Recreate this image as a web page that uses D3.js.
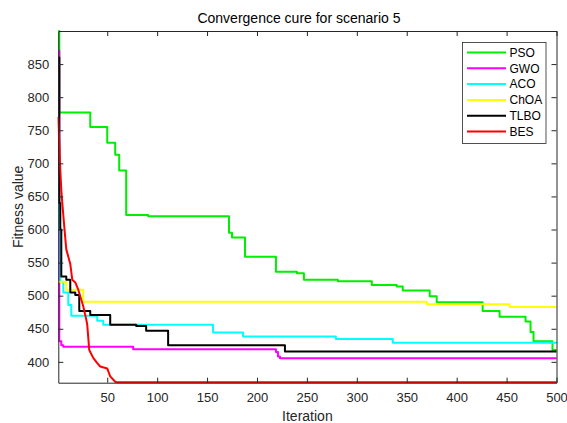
<!DOCTYPE html>
<html>
<head>
<meta charset="utf-8">
<script src="https://cdn.jsdelivr.net/npm/d3@7"></script>
<style>
  body { margin: 0; background: #fff; }
  text { font-family: 'Liberation Sans', Arial, sans-serif; }
</style>
</head>
<body>
<div class="vis-container"></div>
<script>
// Series: [iteration, fitness] breakpoints
const names = ['PSO', 'GWO', 'ACO', 'ChOA', 'TLBO', 'BES'];
const colors = ['#00ee00', '#ff00ff', '#00ffff', '#ffff00', '#000000', '#ff0000'];

const psoIter = [1, 2, 33, 50, 58, 62, 69, 91, 172, 175, 188, 219, 240, 247, 281, 315, 340, 346, 373, 380, 426, 443, 469, 474, 477, 496, 500];
const psoVal = [900, 777, 755, 731, 713, 689, 622, 620, 595, 588, 559, 536, 534, 524, 522, 516, 514, 508, 499, 490, 477, 468, 461, 445, 431, 418, 418];

const gwoIter = [1, 2, 4, 6, 76, 219, 221, 223, 500];
const gwoVal = [870, 431, 425, 423, 419, 415, 408, 405.5, 405.5];

const acoIter = [1, 2, 3, 6, 11, 14, 40, 46, 156, 186, 279, 336, 500];
const acoVal = [660, 600, 521, 505, 486, 469.5, 462, 456, 444.5, 438.5, 434.5, 429, 428];

const choaIter = [1, 9, 26, 370, 453, 500];
const choaVal = [521, 509, 491, 487, 483, 483];

const tlboIter = [1, 2, 3, 4, 9, 13, 18, 22, 33, 53, 79, 89, 111, 228, 500];
const tlboVal = [860, 640, 600, 529, 524, 505, 501, 477, 471, 456, 454, 447, 425, 415.5, 415.5];

const besIter = [1, 2, 3, 4, 5, 7, 9, 13, 15, 18, 21, 26, 29, 30, 32, 36, 40, 43, 50, 53, 58, 60, 500];
const besVal = [770, 730, 690, 660, 640, 604, 570, 548, 524, 520, 509, 484, 464, 456, 418, 406, 398, 393, 390, 378, 370, 369, 369];

const xTicks = [50, 100, 150, 200, 250, 300, 350, 400, 450, 500];
const yTicks = [400, 450, 500, 550, 600, 650, 700, 750, 800, 850];

const series = [
  { name: names[0], color: colors[0], step: true, iter: psoIter, val: psoVal },
  { name: names[1], color: colors[1], step: true, iter: gwoIter, val: gwoVal },
  { name: names[2], color: colors[2], step: true, iter: acoIter, val: acoVal },
  { name: names[3], color: colors[3], step: true, iter: choaIter, val: choaVal },
  { name: names[4], color: colors[4], step: true, iter: tlboIter, val: tlboVal },
  { name: names[5], color: colors[5], step: false, iter: besIter, val: besVal }
];

const margin = { top: 31, right: 10.5, bottom: 40.3, left: 58.3 };
const width = 567 - margin.left - margin.right;
const height = 423 - margin.top - margin.bottom;
const axisColor = '#262626';

const svg = d3
  .select('.vis-container')
  .append('svg')
  .attr('width', 567)
  .attr('height', 423);

svg
  .append('defs')
  .append('clipPath')
  .attr('id', 'clip')
  .append('rect')
  .attr('x', -1)
  .attr('y', -1)
  .attr('width', width + 2)
  .attr('height', height + 2);

const group = svg
  .append('g')
  .attr('transform', 'translate(' + margin.left + ',' + margin.top + ')');

const xScale = d3.scaleLinear().domain([1, 500]).range([0, width]);
const yScale = d3.scaleLinear().domain([368.5, 900]).range([height, 0]);

// Lines
const lines = group.append('g').attr('clip-path', 'url(#clip)');
series.forEach((s) => {
  const pts = s.iter.map((it, i) => [it, s.val[i]]);
  const line = d3
    .line()
    .curve(s.step ? d3.curveStepAfter : d3.curveLinear)
    .x((d) => xScale(d[0]))
    .y((d) => yScale(d[1]));
  lines
    .append('path')
    .datum(pts)
    .attr('fill', 'none')
    .attr('stroke', s.color)
    .attr('stroke-width', 2)
    .attr('stroke-linejoin', 'round')
    .attr('d', line);
});

// Axes (MATLAB style: inward ticks, box)
function styleAxis(g) {
  g.select('.domain').attr('stroke', axisColor);
  g.selectAll('.tick line').attr('stroke', axisColor);
  g.selectAll('.tick text').attr('fill', axisColor).attr('font-size', 13);
}

group
  .append('g')
  .attr('transform', `translate(0, ${height})`)
  .call(d3.axisBottom(xScale).tickValues(xTicks).tickSizeInner(-5).tickSizeOuter(0).tickPadding(10))
  .call(styleAxis);

group
  .append('g')
  .call(d3.axisTop(xScale).tickValues(xTicks).tickSizeInner(-5).tickSizeOuter(0).tickFormat(''))
  .call(styleAxis);

group
  .append('g')
  .call(d3.axisLeft(yScale).tickValues(yTicks).tickSizeInner(-5).tickSizeOuter(0).tickPadding(9))
  .call(styleAxis);

group
  .append('g')
  .attr('transform', `translate(${width}, 0)`)
  .call(d3.axisRight(yScale).tickValues(yTicks).tickSizeInner(-5).tickSizeOuter(0).tickFormat(''))
  .call(styleAxis);

// Titles
svg
  .append('text')
  .attr('x', 299)
  .attr('y', 23)
  .attr('text-anchor', 'middle')
  .attr('font-size', 14)
  .attr('fill', '#000')
  .text('Convergence cure for scenario 5');

svg
  .append('text')
  .attr('x', margin.left + width / 2)
  .attr('y', 421)
  .attr('text-anchor', 'middle')
  .attr('font-size', 14)
  .attr('fill', axisColor)
  .text('Iteration');

svg
  .append('text')
  .attr('transform', `translate(23, ${margin.top + height / 2}) rotate(-90)`)
  .attr('text-anchor', 'middle')
  .attr('font-size', 14)
  .attr('fill', axisColor)
  .text('Fitness value');

// Legend
const legend = svg.append('g').attr('transform', 'translate(462.5, 42.5)');
legend
  .append('rect')
  .attr('width', 83.5)
  .attr('height', 101)
  .attr('fill', '#fff')
  .attr('stroke', axisColor)
  .attr('stroke-width', 0.8);

const item = legend
  .selectAll('g')
  .data(series)
  .join('g')
  .attr('transform', (d, i) => `translate(0, ${10 + i * 15.8})`);

item
  .append('line')
  .attr('x1', 4.5)
  .attr('x2', 43.5)
  .attr('stroke', (d) => d.color)
  .attr('stroke-width', 2);

item
  .append('text')
  .attr('x', 47)
  .attr('dy', '0.36em')
  .attr('font-size', 12)
  .attr('fill', '#000')
  .text((d) => d.name);
</script>
</body>
</html>
